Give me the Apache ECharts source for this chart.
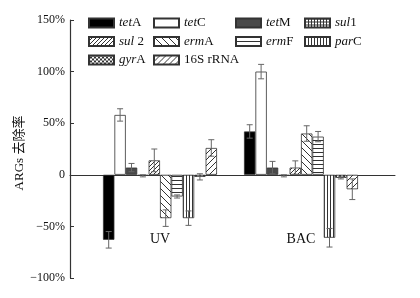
<!DOCTYPE html>
<html>
<head>
<meta charset="utf-8">
<script src="https://cdn.jsdelivr.net/npm/echarts@6/dist/echarts.min.js"></script>
<style>
  html, body { margin: 0; padding: 0; background: #fff; }
  #chart { width: 420px; height: 298px; }
</style>
</head>
<body>
<div id="chart"></div>
<script>
// data (%)
var genes = ['tetA', 'tetC', 'tetM', 'sul1', 'sul 2', 'ermA', 'ermF', 'parC', 'gyrA', '16S rRNA'];
var groups = ['UV', 'BAC'];
var uvValues = [-63, 58, 7, -1, 14, -42, -21, -42, -2, 26];
var uvErrors = [8, 6, 4, 1, 11, 8, 1.5, 7, 3, 8];
var bacValues = [42, 100, 7, -1, 7, 40, 37, -61, -3, -14];
var bacErrors = [6.5, 7, 6, 1, 6.5, 7.5, 5, 9, 1, 10];
var yTicks = [-100, -50, 0, 50, 100, 150];

var legendText = {
  'tetA': '{i|tet}A', 'tetC': '{i|tet}C', 'tetM': '{i|tet}M', 'sul1': '{i|sul}1',
  'sul 2': '{i|sul} 2', 'ermA': '{i|erm}A', 'ermF': '{i|erm}F', 'parC': '{i|par}C',
  'gyrA': '{i|gyr}A', '16S rRNA': '16S rRNA'
};

var serif = 'Liberation Serif';
var ink = '#333';

// little hatch tiles
function tile(size, draw) {
  var c = document.createElement('canvas');
  c.width = size; c.height = size;
  var g = c.getContext('2d');
  g.fillStyle = '#fff';
  g.fillRect(0, 0, size, size);
  g.strokeStyle = ink;
  g.lineWidth = 1;
  g.beginPath();
  draw(g, size);
  g.stroke();
  return { image: c, repeat: 'repeat' };
}
function slash(g, s) {
  g.moveTo(-1, s + 1); g.lineTo(s + 1, -1);
  g.moveTo(-1, 1); g.lineTo(1, -1);
  g.moveTo(s - 1, s + 1); g.lineTo(s + 1, s - 1);
}
function backslash(g, s) {
  g.moveTo(-1, -1); g.lineTo(s + 1, s + 1);
  g.moveTo(s - 1, -1); g.lineTo(s + 1, 1);
  g.moveTo(-1, s - 1); g.lineTo(1, s + 1);
}

var fills = [
  '#000',
  '#fff',
  '#4a4a4a',
  tile(3, function (g, s) { g.moveTo(0.5, 0); g.lineTo(0.5, s); g.moveTo(0, 0.5); g.lineTo(s, 0.5); }),
  tile(4, slash),
  tile(7, backslash),
  tile(4, function (g, s) { g.moveTo(0, 0.5); g.lineTo(s, 0.5); }),
  tile(3, function (g, s) { g.moveTo(0.5, 0); g.lineTo(0.5, s); }),
  tile(4, function (g, s) { slash(g, s); backslash(g, s); }),
  tile(6, slash)
];

var barW = 11.4;
var series = genes.map(function (name, i) {
  return {
    name: name,
    type: 'bar',
    xAxisIndex: 1,
    yAxisIndex: 1,
    barWidth: barW,
    barGap: '0%',
    itemStyle: { color: fills[i], borderColor: ink, borderWidth: 0.8 },
    data: [uvValues[i], bacValues[i]]
  };
});

var errData = [];
genes.forEach(function (name, i) {
  errData.push([0, i, uvValues[i], uvErrors[i]]);
  errData.push([1, i, bacValues[i], bacErrors[i]]);
});

series.push({
  type: 'custom',
  xAxisIndex: 1,
  yAxisIndex: 1,
  z: 5,
  data: errData,
  encode: { x: 0, y: 2 },
  renderItem: function (params, api) {
    var cat = api.value(0), g = api.value(1), v = api.value(2), e = api.value(3);
    var top = api.coord([cat, v + e]);
    var bot = api.coord([cat, v - e]);
    var x = top[0] + (g - 4.5) * barW;
    var cap = 3;
    var st = { stroke: '#666', lineWidth: 1 };
    return {
      type: 'group',
      children: [
        { type: 'line', shape: { x1: x, y1: top[1], x2: x, y2: bot[1] }, style: st },
        { type: 'line', shape: { x1: x - cap, y1: top[1], x2: x + cap, y2: top[1] }, style: st },
        { type: 'line', shape: { x1: x - cap, y1: bot[1], x2: x + cap, y2: bot[1] }, style: st }
      ]
    };
  }
});

function legendCol(left, names) {
  return {
    orient: 'vertical',
    left: left,
    top: 16,
    padding: 0,
    itemWidth: 25,
    itemHeight: 9,
    itemGap: 4.5,
    icon: 'rect',
    selectedMode: false,
    data: names,
    formatter: function (n) { return legendText[n]; },
    textStyle: {
      fontFamily: serif, fontSize: 13, color: '#111', lineHeight: 14,
      rich: { i: { fontFamily: serif, fontSize: 13, fontStyle: 'italic', color: '#111', lineHeight: 14 } }
    }
  };
}

var chart = echarts.init(document.getElementById('chart'));
var option = {
  animation: false,
  backgroundColor: '#fff',
  legend: [
    legendCol(88, ['tetA', 'sul 2', 'gyrA']),
    legendCol(153, ['tetC', 'ermA', '16S rRNA']),
    legendCol(235, ['tetM', 'ermF']),
    legendCol(304, ['sul1', 'parC'])
  ],
  grid: [
    { left: 70, right: 25, top: 20, bottom: 20, outerBoundsMode: 'none' },
    { left: 89.5, right: 48.5, top: 20, bottom: 20, outerBoundsMode: 'none' }
  ],
  xAxis: [
    {
      gridIndex: 0, type: 'value', min: 0, max: 1,
      axisLine: { show: true, onZero: true, lineStyle: { color: ink, width: 1 } },
      axisTick: { show: false }, axisLabel: { show: false }, splitLine: { show: false }
    },
    {
      gridIndex: 1, type: 'category', data: groups,
      axisLine: { show: false, onZero: false },
      axisTick: { show: false },
      axisLabel: { margin: -46, fontFamily: serif, fontSize: 14, color: '#111' }
    }
  ],
  yAxis: [
    {
      gridIndex: 0, type: 'value', min: yTicks[0], max: yTicks[yTicks.length - 1], interval: 50,
      name: 'ARGs 去除率',
      nameLocation: 'middle',
      nameGap: 44,
      nameMoveOverlap: false,
      nameTextStyle: { fontFamily: serif + ', Noto Sans CJK SC', fontSize: 13, color: '#111', padding: [0, 8, 0, 0] },
      axisLine: { show: true, lineStyle: { color: ink, width: 1.2 } },
      axisTick: { show: true, inside: true, length: 4, lineStyle: { color: ink } },
      axisLabel: {
        margin: 5, fontFamily: serif, fontSize: 12, color: '#111',
        formatter: function (v) { return v === 0 ? '0' : String(v).replace('-', '\u2212') + '%'; }
      },
      splitLine: { show: false }
    },
    {
      gridIndex: 1, type: 'value', min: yTicks[0], max: yTicks[yTicks.length - 1], interval: 50,
      show: false
    }
  ],
  series: series
};
chart.setOption(option);
</script>
</body>
</html>
